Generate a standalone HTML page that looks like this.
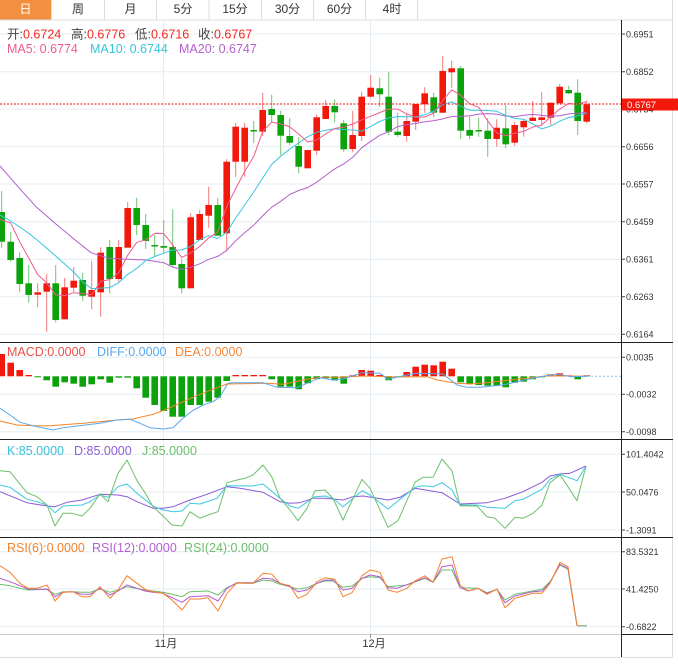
<!DOCTYPE html>
<html><head><meta charset="utf-8">
<style>
html,body{margin:0;padding:0;background:#fff;}
svg{display:block;font-family:"Liberation Sans","Noto Sans CJK SC",sans-serif;}
</style></head>
<body>
<svg width="678" height="665" viewBox="0 0 678 665" xmlns="http://www.w3.org/2000/svg">
<rect width="678" height="665" fill="#fff"/>
<!-- tabs -->
<rect x="0" y="0" width="51.5" height="19.5" fill="#f39040"/>
<g stroke="#dddddd" stroke-width="1">
<line x1="51.5" y1="0" x2="51.5" y2="20"/><line x1="104.5" y1="0" x2="104.5" y2="20"/>
<line x1="156.5" y1="0" x2="156.5" y2="20"/><line x1="209" y1="0" x2="209" y2="20"/>
<line x1="261.5" y1="0" x2="261.5" y2="20"/><line x1="313.5" y1="0" x2="313.5" y2="20"/>
<line x1="365.5" y1="0" x2="365.5" y2="20"/><line x1="417.5" y1="0" x2="417.5" y2="20"/>
<line x1="0" y1="20" x2="673" y2="20"/>
<line x1="672.5" y1="0" x2="672.5" y2="657"/>
</g>
<g font-size="12" text-anchor="middle" fill="#333">
<text x="25.5" y="13" fill="#fff">日</text>
<text x="78" y="13">周</text>
<text x="130.5" y="13">月</text>
<text x="183" y="13">5分</text>
<text x="235" y="13">15分</text>
<text x="287.5" y="13">30分</text>
<text x="339.5" y="13">60分</text>
<text x="392" y="13">4时</text>
</g>
<!-- grid -->
<g stroke="#e4edf3" stroke-width="1">
<line x1="0" y1="34" x2="621" y2="34"/><line x1="0" y1="71.7" x2="621" y2="71.7"/>
<line x1="0" y1="109.3" x2="621" y2="109.3"/><line x1="0" y1="146.7" x2="621" y2="146.7"/>
<line x1="0" y1="184" x2="621" y2="184"/><line x1="0" y1="221.7" x2="621" y2="221.7"/>
<line x1="0" y1="259.3" x2="621" y2="259.3"/><line x1="0" y1="296.7" x2="621" y2="296.7"/>
<line x1="0" y1="334.3" x2="621" y2="334.3"/>
<line x1="0" y1="357.3" x2="621" y2="357.3"/><line x1="0" y1="394.3" x2="621" y2="394.3"/><line x1="0" y1="431.7" x2="621" y2="431.7"/>
<line x1="0" y1="454.3" x2="621" y2="454.3"/><line x1="0" y1="492" x2="621" y2="492"/><line x1="0" y1="530" x2="621" y2="530"/>
<line x1="0" y1="551.7" x2="621" y2="551.7"/><line x1="0" y1="589" x2="621" y2="589"/><line x1="0" y1="626.7" x2="621" y2="626.7"/>
<line x1="163.5" y1="20" x2="163.5" y2="634"/><line x1="370.5" y1="20" x2="370.5" y2="634"/>
</g>
<!-- wicks -->
<path fill="none" stroke="#f57a7a" stroke-width="1" d="M37.7 283.3V307.3M46.7 274V331.7M64.7 278V319.3M73.7 267V292M91.7 261V309.3M100.7 247.3V316.7M118.7 240V281.7M127.7 202V247.7M190.7 213.3V288.3M199.7 210V240M208.7 186.7V227.7M226.7 159.3V250M235.7 122.7V176.7M244.7 122.7V176.7M262.7 92.7V136M316.7 114.3V155M325.7 100V119M352.7 110.7V152.3M361.7 91.7V141M370.7 75V97.7M406.7 113.3V141.7M415.7 104V130M424.7 87.3V112.7M442.7 56V112.7M451.7 60.7V87.7M496.7 119.3V146.7M514.7 121.7V146M523.7 119.3V136.7M532.7 101V121M541.7 91.7V125M550.7 102.7V125M559.7 84V103.3M586.7 100.7V123.3"/>
<path fill="none" stroke="#72c472" stroke-width="1" d="M1.7 191V248M10.7 232V261.7M19.7 252V292M28.7 265V302.7M55.7 265V322.3M82.7 272.7V300.7M109.7 240V293.3M136.7 197.7V235M145.7 214V249M154.7 235V256M163.7 220V253.3M172.7 209.3V267.3M181.7 259.3V293.3M217.7 197.7V235.7M253.7 121V143.3M271.7 94.7V122.7M280.7 110.7V155M289.7 118.3V145M298.7 137.3V173.3M334.7 99.3V122.3M343.7 120V151.7M379.7 77.7V107.3M388.7 71.7V135M397.7 112.7V136.7M433.7 92.7V117.3M460.7 66V139M469.7 116.7V139M478.7 117.7V136.7M487.7 118.3V156.7M505.7 105V148.3M568.7 85.7V94M577.7 79.3V135"/>
<!-- red bodies -->
<g fill="#f2180c">
<rect x="34.4" y="292.3" width="6.6" height="2.4"/><rect x="43.4" y="283.3" width="6.6" height="8.4"/>
<rect x="61.4" y="287.3" width="6.6" height="32"/><rect x="70.4" y="280.7" width="6.6" height="7"/>
<rect x="88.4" y="290" width="6.6" height="6.7"/><rect x="97.4" y="252.7" width="6.6" height="39.6"/>
<rect x="115.4" y="247" width="6.6" height="32"/><rect x="124.4" y="208" width="6.6" height="39.7"/>
<rect x="187.4" y="217.3" width="6.6" height="71"/><rect x="196.4" y="214" width="6.6" height="26"/>
<rect x="205.4" y="205" width="6.6" height="10.7"/><rect x="223.4" y="161.7" width="6.6" height="71.6"/>
<rect x="232.4" y="126.7" width="6.6" height="35"/><rect x="241.4" y="127.7" width="6.6" height="34"/>
<rect x="259.4" y="110" width="6.6" height="21.7"/><rect x="304.4" y="150" width="6.6" height="18.3"/>
<rect x="313.4" y="117.3" width="6.6" height="33.4"/><rect x="322.4" y="106" width="6.6" height="13"/>
<rect x="349.4" y="135" width="6.6" height="14"/><rect x="358.4" y="96.7" width="6.6" height="39.3"/>
<rect x="367.4" y="87.7" width="6.6" height="9"/><rect x="403.4" y="121" width="6.6" height="15"/>
<rect x="412.4" y="104" width="6.6" height="17.7"/><rect x="421.4" y="93.3" width="6.6" height="11"/>
<rect x="439.4" y="71" width="6.6" height="41.7"/><rect x="448.4" y="68.3" width="6.6" height="4"/>
<rect x="493.4" y="127.7" width="6.6" height="11.3"/><rect x="511.4" y="125" width="6.6" height="17.7"/>
<rect x="520.4" y="121" width="6.6" height="6.3"/><rect x="529.4" y="117.7" width="6.6" height="3.3"/>
<rect x="538.4" y="117.3" width="6.6" height="2.7"/><rect x="547.4" y="102.7" width="6.6" height="15"/>
<rect x="556.4" y="86.7" width="6.6" height="16.6"/><rect x="583.4" y="104.3" width="6.6" height="17.4"/>
</g>
<!-- green bodies -->
<g fill="#0ba20b">
<rect x="-1.6" y="212" width="6.6" height="29.7"/><rect x="7.4" y="241.7" width="6.6" height="18.3"/>
<rect x="16.4" y="258" width="6.6" height="26"/><rect x="25.4" y="283.3" width="6.6" height="11.7"/>
<rect x="52.4" y="283.3" width="6.6" height="36.7"/><rect x="79.4" y="280" width="6.6" height="15.7"/>
<rect x="106.4" y="247" width="6.6" height="32"/><rect x="133.4" y="208" width="6.6" height="17"/>
<rect x="142.4" y="225" width="6.6" height="16"/><rect x="151.4" y="245" width="6.6" height="1.5"/>
<rect x="160.4" y="246" width="6.6" height="1.7"/><rect x="169.4" y="247" width="6.6" height="18"/>
<rect x="178.4" y="264" width="6.6" height="24.3"/><rect x="214.4" y="205" width="6.6" height="30.7"/>
<rect x="250.4" y="130" width="6.6" height="1.5"/><rect x="268.4" y="109" width="6.6" height="6"/>
<rect x="277.4" y="115" width="6.6" height="20.7"/><rect x="286.4" y="136" width="6.6" height="6.7"/>
<rect x="295.4" y="146" width="6.6" height="20.7"/><rect x="331.4" y="106" width="6.6" height="6.3"/>
<rect x="340.4" y="123.3" width="6.6" height="26"/><rect x="376.4" y="88.3" width="6.6" height="6"/>
<rect x="385.4" y="96.7" width="6.6" height="35"/><rect x="394.4" y="131.7" width="6.6" height="3.3"/>
<rect x="430.4" y="97.3" width="6.6" height="15.4"/><rect x="457.4" y="68.3" width="6.6" height="62.4"/>
<rect x="466.4" y="130" width="6.6" height="5.7"/><rect x="475.4" y="130" width="6.6" height="1.5"/>
<rect x="484.4" y="130.7" width="6.6" height="8.3"/><rect x="502.4" y="128.3" width="6.6" height="16"/>
<rect x="565.4" y="90" width="6.6" height="3.3"/><rect x="574.4" y="92.7" width="6.6" height="28.3"/>
</g>
<!-- MA lines -->
<g fill="none" stroke-width="1" stroke-linejoin="round">
<polyline stroke="#b45fd0" points="0,166 18,186.7 36,206.7 55,223.3 73,238.3 91,252.7 109,258.3 127,259.3 146,260 163.7,262.7 172.7,267.1 181.7,269.4 190.7,267.3 199.7,263.8 208.7,259.3 217.7,256.4 226.7,250.4 235.7,240.7 244.7,232.7 253.7,225.2 262.7,215.9 271.7,207.2 280.7,201.3 289.7,194.5 298.7,190.5 307.7,187.6 316.7,182.2 325.7,175.5 334.7,168.8 343.7,163.9 352.7,157.4 361.7,147.8 370.7,141.3 379.7,135.3 388.7,131.7 397.7,126.6 406.7,124.6 415.7,123.5 424.7,121.7 433.7,120.8 442.7,118.9 451.7,116.5 460.7,116.3 469.7,115.9 478.7,114.1 487.7,113.6 496.7,114.1 505.7,116 514.7,116.7 523.7,115.2 532.7,114.4 541.7,115.4 550.7,116.2 559.7,115.8 568.7,113.9 577.7,113.2 586.7,112.3"/>
<polyline stroke="#36c5dd" points="0,215 10.7,221 19.7,227 28.7,233.3 37.7,240.5 46.7,248.3 55.7,256 64.7,264 73.7,272 82.7,282 91.7,288.8 100.7,288.1 109.7,287.6 118.7,282.8 127.7,274.4 136.7,268.5 145.7,260.6 154.7,256.5 163.7,253.2 172.7,250.1 181.7,250 190.7,246.4 199.7,239.9 208.7,235.7 217.7,238.5 226.7,232.2 235.7,218 244.7,205 253.7,192 262.7,178 271.7,164.4 280.7,156.3 289.7,149.1 298.7,143 307.7,136.7 316.7,132.3 325.7,130.2 334.7,128.7 343.7,129.5 352.7,130 361.7,131.2 370.7,126.4 379.7,121.5 388.7,118 397.7,116.5 406.7,116.9 415.7,116.7 424.7,114.8 433.7,111.1 442.7,104.7 451.7,101.9 460.7,106.2 469.7,110.3 478.7,110.2 487.7,110.6 496.7,111.3 505.7,115.3 514.7,118.5 523.7,119.3 532.7,124 541.7,128.9 550.7,126.1 559.7,121.2 568.7,117.5 577.7,115.7 586.7,113.3"/>
<polyline stroke="#ef5b8f" points="0,219.3 10.7,223 19.7,241.7 28.7,258 37.7,274.6 46.7,282.9 55.7,294.9 64.7,295.6 73.7,292.7 82.7,293.4 91.7,294.7 100.7,281.3 109.7,279.6 118.7,272.9 127.7,255.3 136.7,242.3 145.7,240 154.7,233.4 163.7,233.5 172.7,244.9 181.7,257.6 190.7,252.9 199.7,246.5 208.7,237.9 217.7,232.1 226.7,206.7 235.7,188.6 244.7,171.4 253.7,156.6 262.7,131.4 271.7,122.1 280.7,123.9 289.7,126.9 298.7,134 307.7,142 316.7,140 325.7,134 334.7,128.5 343.7,127 352.7,124 361.7,119.9 370.7,116.2 379.7,112.6 388.7,109.1 397.7,109.1 406.7,113.9 415.7,117.2 424.7,117 433.7,113.2 442.7,100.4 451.7,89.9 460.7,95.2 469.7,103.7 478.7,107.3 487.7,120.9 496.7,132.8 505.7,135.5 514.7,133.3 523.7,131.4 532.7,127.1 541.7,125.1 550.7,116.7 559.7,109.1 568.7,103.5 577.7,104.2 586.7,101.6"/>
</g>
<line x1="0" y1="104" x2="621" y2="104" stroke="#f21010" stroke-width="1" stroke-dasharray="2,1.5"/>
<!-- MACD bars -->
<g fill="#f2180c">
<rect x="-1.6" y="354" width="6.6" height="22.3"/><rect x="7.4" y="362.7" width="6.6" height="13.6"/>
<rect x="16.4" y="370" width="6.6" height="6.3"/><rect x="25.4" y="375" width="6.6" height="1.3"/>
<rect x="232.4" y="375" width="6.6" height="1.3"/><rect x="241.4" y="375" width="6.6" height="1.3"/>
<rect x="250.4" y="375" width="6.6" height="1.3"/><rect x="259.4" y="375" width="6.6" height="1.3"/>
<rect x="349.4" y="375.3" width="6.6" height="1"/>
<rect x="358.4" y="370" width="6.6" height="6.3"/><rect x="367.4" y="370.7" width="6.6" height="5.6"/>
<rect x="376.4" y="375" width="6.6" height="1.3"/><rect x="403.4" y="372" width="6.6" height="4.3"/>
<rect x="412.4" y="366.7" width="6.6" height="9.6"/><rect x="421.4" y="364.7" width="6.6" height="11.6"/>
<rect x="430.4" y="365.3" width="6.6" height="11"/><rect x="439.4" y="361.7" width="6.6" height="14.6"/>
<rect x="448.4" y="368.7" width="6.6" height="7.6"/><rect x="547.4" y="374.3" width="6.6" height="2"/>
<rect x="556.4" y="373.3" width="6.6" height="3"/><rect x="565.4" y="375.3" width="6.6" height="1"/>
<rect x="583.4" y="375.3" width="6.6" height="1"/>
</g>
<g fill="#0ba20b">
<rect x="34.4" y="376.3" width="6.6" height="1"/><rect x="43.4" y="376.3" width="6.6" height="4"/>
<rect x="52.4" y="376.3" width="6.6" height="10.4"/><rect x="61.4" y="376.3" width="6.6" height="6"/>
<rect x="70.4" y="376.3" width="6.6" height="7.4"/><rect x="79.4" y="376.3" width="6.6" height="10.4"/>
<rect x="88.4" y="376.3" width="6.6" height="8"/><rect x="97.4" y="376.3" width="6.6" height="3"/>
<rect x="106.4" y="376.3" width="6.6" height="6.4"/><rect x="115.4" y="376.3" width="6.6" height="1.4"/>
<rect x="124.4" y="376.3" width="6.6" height="1.4"/><rect x="133.4" y="376.3" width="6.6" height="12"/>
<rect x="142.4" y="376.3" width="6.6" height="21.4"/><rect x="151.4" y="376.3" width="6.6" height="28.7"/>
<rect x="160.4" y="376.3" width="6.6" height="34.7"/><rect x="169.4" y="376.3" width="6.6" height="40.4"/>
<rect x="178.4" y="376.3" width="6.6" height="40.4"/><rect x="187.4" y="376.3" width="6.6" height="28.7"/>
<rect x="196.4" y="376.3" width="6.6" height="28.7"/><rect x="205.4" y="376.3" width="6.6" height="25.4"/>
<rect x="214.4" y="376.3" width="6.6" height="21.4"/><rect x="223.4" y="376.3" width="6.6" height="4.7"/>
<rect x="268.4" y="376.3" width="6.6" height="3"/><rect x="277.4" y="376.3" width="6.6" height="10.4"/>
<rect x="286.4" y="376.3" width="6.6" height="10.4"/><rect x="295.4" y="376.3" width="6.6" height="13"/>
<rect x="304.4" y="376.3" width="6.6" height="7"/><rect x="313.4" y="376.3" width="6.6" height="2.7"/>
<rect x="322.4" y="376.3" width="6.6" height="2"/><rect x="331.4" y="376.3" width="6.6" height="4.2"/>
<rect x="340.4" y="376.3" width="6.6" height="7.4"/><rect x="385.4" y="376.3" width="6.6" height="4"/>
<rect x="394.4" y="376.3" width="6.6" height="1"/><rect x="457.4" y="376.3" width="6.6" height="6"/>
<rect x="466.4" y="376.3" width="6.6" height="7.7"/><rect x="475.4" y="376.3" width="6.6" height="8.7"/>
<rect x="484.4" y="376.3" width="6.6" height="9.4"/><rect x="493.4" y="376.3" width="6.6" height="9.4"/>
<rect x="502.4" y="376.3" width="6.6" height="11"/><rect x="511.4" y="376.3" width="6.6" height="6.4"/>
<rect x="520.4" y="376.3" width="6.6" height="5.4"/><rect x="529.4" y="376.3" width="6.6" height="3"/>
<rect x="538.4" y="376.3" width="6.6" height="1"/><rect x="574.4" y="376.3" width="6.6" height="3"/>
</g>
<g fill="none" stroke-width="1" stroke-linejoin="round">
<polyline stroke="#f5832a" points="0,421 17,425 33,425.7 50,425.7 83,423.3 117,420 133,419 153,414.3 167,409 183,401.7 200,394.3 217,387.7 227,384 267,383.3 283,384.3 307,379.3 323,377.3 340,377.3 363,376 397,377 427,376.7 437,380 457,383.3 470,384 487,382.7 510,380 530,377.7 550,375.7 587,376.3"/>
<polyline stroke="#5aa8f0" points="0,408.3 10,415 20,422.3 33,425.7 53,430 63,427.7 100,423.3 117,420 130,419.3 140,423.3 150,427.7 163,429 173,427.7 183,418.3 192,411 203,405 213,401.7 220,396.7 228,383.3 233,382.7 263,382.7 277,387.3 297,387.7 307,383.3 320,377.7 333,380 343,379 362,372.7 380,373.3 388,379.3 410,374.3 417,373.3 443,374 457,385 467,387.3 480,387.3 503,385 517,381.7 533,378.3 550,375 560,374.3 570,376.7 587,376.3"/>
<line x1="587" y1="376.3" x2="621" y2="376.3" stroke="#7cc4ee" stroke-dasharray="2,2"/>
</g>
<!-- KDJ -->
<g fill="none" stroke-width="1" stroke-linejoin="round">
<polyline stroke="#8c5ad8" points="0,491.7 27,502.7 47,506 55,506.7 67,502.3 82,500 100,494.3 118,495 127,496.7 137,501.7 153,508.3 163,508.3 173,506.7 190,500 207,494.3 227,486.7 240,488.3 263,492.3 280,501.7 290,503.3 300,502.7 313,498.3 325,498.3 343,500 353,496.7 363,496 388,500 400,497.3 415,488.3 442,492.7 460,504 487,502.7 505,498.3 523,491.7 542,482.3 550,476 560,474 570,473.3 586,466"/>
<polyline stroke="#3cc8e0" points="0,485 10,487.3 27,499.3 37,501.7 47,505 55,512.7 63,506 82,505 90,501.7 100,495 108,497.3 118,486.7 127,484 137,493.3 153,506 163,510 173,511.7 182,511 190,503.3 200,504 217,498.3 227,485.7 253,486 263,484 280,498.3 290,506 298,508.3 315,496.7 325,496 333,498.3 343,506.7 362,490.7 370,495 388,509 415,487.3 423,485.7 433,486.7 442,482.7 452,490 460,505 477,505 487,507.3 505,508.3 515,500.7 523,499.3 542,489.3 550,479.3 560,474.3 577,480.7 586,466"/>
<polyline stroke="#6cc06a" points="0,470.7 10,471.7 18,481.7 27,492.7 37,496.7 47,505 55,526 63,513.3 72,513.3 82,516 90,508.3 100,494 108,501.7 118,473.3 127,460 137,480.7 145,492.7 153,506.7 163,516 172,525 182,526 190,511.7 200,518.3 208,515 218,511.7 227,482.7 237,480 245,478.3 253,475 263,465 272,477.3 280,498.3 290,510 298,520.7 307,508.3 315,490.7 325,490 333,498.3 343,520 362,479.3 370,488.3 388,527.3 398,520.7 415,482.3 423,477.3 433,477.3 442,459 452,471 460,505.7 477,506 487,516.7 495,518.3 505,528.3 515,517.3 523,518.3 533,513.3 542,505 550,482.7 560,475 568,486.7 577,500.7 586,466"/>
</g>
<!-- RSI -->
<g fill="none" stroke-width="1" stroke-linejoin="round">
<polyline stroke="#6cc06a" points="0,584.3 10,585.7 20,588.3 28,590 47,589.3 55,594.3 63,591.7 73,591.7 82,592.3 90,592.3 100,589 110,592.3 118,590 127,586.7 145,590 163,592.3 172,594.3 182,596.7 190,591.7 208,591 218,595 227,587.7 237,583.3 253,583.3 263,580 272,581 280,584.3 290,586.7 298,589 307,587.7 317,583.3 325,581 333,581 343,587.3 352,586 362,578.3 370,576.7 380,577.7 388,586.7 407,585 425,578.3 433,582.3 442,570 452,570 460,587.7 478,588.3 487,592.7 497,589.3 505,600 515,594.3 542,589.3 550,581.7 560,565 568,569.3 577,625.7"/>
<polyline stroke="#b45ad2" points="0,578.3 10,581.7 20,585.7 28,589 37,589.3 47,589 55,596.7 63,592.3 73,591.7 82,594.3 90,594.3 100,588.3 110,595 118,591 127,585 137,588.3 145,591 153,592.3 163,593.3 172,597.7 182,602.3 190,596.7 208,595.7 218,601 227,588.3 237,582.7 253,582.7 263,578.3 272,579 280,583.3 290,586.7 298,591.7 307,590 317,583.3 325,580 333,580 343,590 352,588.3 362,578.3 370,575 380,576.7 388,587.7 397,588.3 415,581.7 425,577.7 433,582.3 442,566.7 452,565 460,587.3 468,591 478,588.3 487,593.3 497,589.3 505,602.7 515,596 533,591.7 542,591 550,582.7 560,564.3 568,568.3 577,625.7"/>
<polyline stroke="#f5822a" points="0,565.7 10,572.3 20,583.3 28,588.3 37,588.3 47,585 55,601 63,592.3 73,591.7 82,596.7 90,596.7 100,586.7 110,598.3 118,590 127,575.7 137,583.3 145,589.3 153,591.7 163,593.3 172,600 182,610 190,599 200,599 208,597.7 218,611 227,593.3 237,582.7 245,583.3 253,583.3 263,573.3 272,574.3 280,583.3 290,585.7 298,598.3 307,594.3 317,581.7 325,577.7 335,579.3 343,596.7 352,592.7 362,575.7 370,570 380,572.3 388,590 397,592.3 407,588.3 415,581 425,575.7 433,582.3 442,559 452,556.7 460,585 468,591 478,588.3 487,594.3 497,589 505,607.7 515,598.3 523,596 533,593.3 542,593.3 550,583.3 560,562.3 568,566.7 577,625.7"/>
<line x1="577" y1="625.7" x2="587" y2="625.7" stroke="#a9b0a0" stroke-width="1.5"/>
</g>
<!-- frame lines -->
<g stroke-width="1">
<line x1="0" y1="342.5" x2="673" y2="342.5" stroke="#222"/>
<line x1="0" y1="439.5" x2="673" y2="439.5" stroke="#222"/>
<line x1="0" y1="537.5" x2="673" y2="537.5" stroke="#222"/>
<line x1="0" y1="634.5" x2="621" y2="634.5" stroke="#cccccc"/>
<line x1="621" y1="634.5" x2="673" y2="634.5" stroke="#222"/>
<line x1="0" y1="657.5" x2="673" y2="657.5" stroke="#dddddd"/>
<line x1="621.5" y1="20" x2="621.5" y2="657" stroke="#222"/>
<line x1="163.5" y1="634" x2="163.5" y2="638" stroke="#999"/>
<line x1="370.5" y1="634" x2="370.5" y2="638" stroke="#999"/>
</g>
<!-- axis ticks -->
<path stroke="#444" stroke-width="1" d="M621 34H625M621 71.7H625M621 109.3H625M621 146.7H625M621 184H625M621 221.7H625M621 259.3H625M621 296.7H625M621 334.3H625M621 357.3H625M621 394.3H625M621 431.7H625M621 454.3H625M621 492H625M621 530H625M621 551.7H625M621 589H625M621 626.7H625"/>
<g font-size="9" fill="#333">
<text x="626" y="37.3">0.6951</text>
<text x="626" y="75">0.6852</text>
<text x="626" y="112.6">0.6754</text>
<text x="626" y="150">0.6656</text>
<text x="626" y="187.3">0.6557</text>
<text x="626" y="225">0.6459</text>
<text x="626" y="262.6">0.6361</text>
<text x="626" y="300">0.6263</text>
<text x="626" y="337.6">0.6164</text>
<text x="626" y="360.6">0.0035</text>
<text x="626" y="397.6">-0.0032</text>
<text x="626" y="435">-0.0098</text>
<text x="626" y="457.6">101.4042</text>
<text x="626" y="495.3">50.0476</text>
<text x="626" y="533.3">-1.3091</text>
<text x="626" y="555">83.5321</text>
<text x="626" y="592.3">41.4250</text>
<text x="626" y="630">-0.6822</text>
</g>
<rect x="622" y="98.5" width="56" height="12" fill="#f2180c"/>
<text x="627" y="108" font-size="9.5" fill="#fff">0.6767</text>
<!-- x labels -->
<g font-size="11" fill="#333" text-anchor="middle">
<text x="166" y="647">11月</text>
<text x="374" y="647">12月</text>
</g>
<!-- legends -->
<g font-size="12.5">
<text x="7" y="38.5"><tspan fill="#444">开:</tspan><tspan fill="#f22a1e">0.6724</tspan></text>
<text x="71" y="38.5"><tspan fill="#444">高:</tspan><tspan fill="#f22a1e">0.6776</tspan></text>
<text x="135" y="38.5"><tspan fill="#444">低:</tspan><tspan fill="#f22a1e">0.6716</tspan></text>
<text x="198" y="38.5"><tspan fill="#444">收:</tspan><tspan fill="#f22a1e">0.6767</tspan></text>
<text x="7" y="53" fill="#ef5b8f">MA5: 0.6774</text>
<text x="90" y="53" fill="#36c5dd">MA10: 0.6744</text>
<text x="179" y="53" fill="#b45fd0">MA20: 0.6747</text>
<text x="7" y="356" fill="#e8504a">MACD:0.0000</text>
<text x="97" y="356" fill="#5aa8f0">DIFF:0.0000</text>
<text x="175" y="356" fill="#f5883a">DEA:0.0000</text>
<text x="7" y="455" fill="#36c2dc">K:85.0000</text>
<text x="74" y="455" fill="#8d5ed8">D:85.0000</text>
<text x="142" y="455" fill="#6bbf6b">J:85.0000</text>
<text x="7" y="552" fill="#f5822a">RSI(6):0.0000</text>
<text x="92" y="552" fill="#b55fd2">RSI(12):0.0000</text>
<text x="184" y="552" fill="#6bbf6b">RSI(24):0.0000</text>
</g>
</svg>
</body></html>
